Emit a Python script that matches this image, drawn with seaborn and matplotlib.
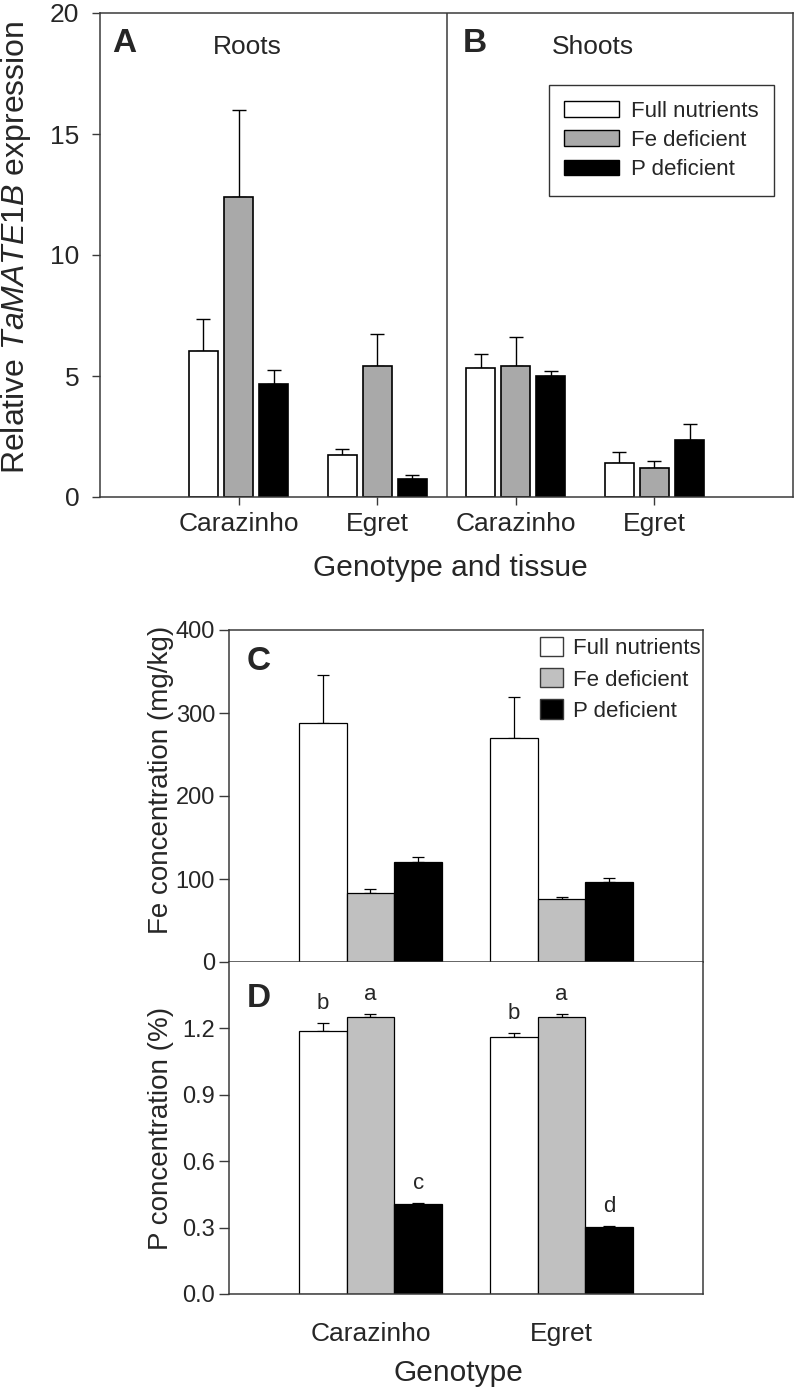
import numpy as np
import pandas as pd
import matplotlib
matplotlib.use("Agg")
import matplotlib.pyplot as plt
from matplotlib.patches import Patch
import seaborn as sns

# ---------------- data ----------------
treatments = ["Full nutrients", "Fe deficient", "P deficient"]

# Panels A/B: relative TaMATE1B expression
expr_groups = ["Roots Carazinho", "Roots Egret", "Shoots Carazinho", "Shoots Egret"]
expr_ticklabels = ["Carazinho", "Egret", "Carazinho", "Egret"]
expr_full = [6.03, 1.74, 5.34, 1.40]
expr_fe = [12.41, 5.40, 5.41, 1.19]
expr_p = [4.68, 0.74, 5.01, 2.34]
expr_full_se = [1.33, 0.24, 0.58, 0.45]
expr_fe_se = [3.58, 1.32, 1.20, 0.29]
expr_p_se = [0.57, 0.17, 0.18, 0.66]

# Panel C: Fe concentration (mg/kg)
genotypes = ["Carazinho", "Egret"]
fe_full = [288.3, 269.3]
fe_fe = [83.0, 76.5]
fe_p = [120.8, 96.6]
fe_full_se = [58.0, 50.0]
fe_fe_se = [4.8, 1.5]
fe_p_se = [5.2, 4.4]

# Panel D: P concentration (%)
p_full = [1.190, 1.161]
p_fe = [1.252, 1.250]
p_p = [0.405, 0.303]
p_full_se = [0.033, 0.017]
p_fe_se = [0.013, 0.017]
p_p_se = [0.007, 0.004]
p_letters_full = ["b", "b"]
p_letters_fe = ["a", "a"]
p_letters_p = ["c", "d"]


def long_df(groups, vals, ses):
    rows = []
    for t, v, s in zip(treatments, vals, ses):
        for g, vi, si in zip(groups, v, s):
            rows.append({"group": g, "treatment": t, "value": vi, "se": si})
    return pd.DataFrame(rows)


df_expr = long_df(expr_groups, [expr_full, expr_fe, expr_p],
                  [expr_full_se, expr_fe_se, expr_p_se])
df_fe = long_df(genotypes, [fe_full, fe_fe, fe_p], [fe_full_se, fe_fe_se, fe_p_se])
df_p = long_df(genotypes, [p_full, p_fe, p_p], [p_full_se, p_fe_se, p_p_se])

# ---------------- style ----------------
sns.set_style("ticks")
plt.rcParams["font.family"] = ["Liberation Sans", "DejaVu Sans"]
plt.rcParams["mathtext.fontset"] = "custom"
plt.rcParams["mathtext.rm"] = "Liberation Sans"
plt.rcParams["mathtext.it"] = "Liberation Sans:italic"
plt.rcParams["mathtext.bf"] = "Liberation Sans:bold"

SPINE = "#3a3a3a"
pal_top = {"Full nutrients": "white", "Fe deficient": "#a9a9a9", "P deficient": "black"}
pal_bot = {"Full nutrients": "white", "Fe deficient": "#c0c0c0", "P deficient": "black"}

W, H = 797, 1392
fig = plt.figure(figsize=(W / 100, H / 100), dpi=100)


def fig_axes(l, r, t, b):
    return fig.add_axes([l / W, (H - b) / H, (r - l) / W, (b - t) / H])


ax_top = fig_axes(100, 793, 13, 497)
ax_c = fig_axes(229, 703, 630, 962)
ax_d = fig_axes(229, 703, 962, 1294)


def draw_bars(ax, df, order, pal, width, gap, lw, elw, capsize):
    sns.barplot(data=df, x="group", y="value", hue="treatment", order=order,
                hue_order=treatments, palette=pal, saturation=1, errorbar=None,
                width=width, gap=gap, edgecolor="black", linewidth=lw,
                legend=False, ax=ax, zorder=2)
    tops = {}
    for t, cont in zip(treatments, ax.containers):
        sub = df[df.treatment == t].set_index("group").loc[order]
        xs = [b.get_x() + b.get_width() / 2 for b in cont]
        ys = [b.get_height() for b in cont]
        errs = sub["se"].values
        ax.errorbar(xs, ys, yerr=[np.zeros(len(errs)), errs], fmt="none",
                    ecolor="black", elinewidth=elw, capsize=capsize,
                    capthick=elw, zorder=1)
        tops[t] = (xs, [y + e for y, e in zip(ys, errs)])
    return tops


# ---------------- Panel A/B ----------------
draw_bars(ax_top, df_expr, expr_groups, pal_top, 0.76, 0.175, 1.2, 1.0, 5)
ax_top.set_xlim(-1, 4)
ax_top.set_ylim(0, 20)
ax_top.set_yticks([0, 5, 10, 15, 20])
ax_top.set_xticks(range(len(expr_groups)))
ax_top.set_xticklabels(expr_ticklabels)
ax_top.axvline(1.5, color=SPINE, lw=1.1)
ax_top.tick_params(axis="y", labelsize=19, length=6, width=1.0, color=SPINE, pad=9)
ax_top.tick_params(axis="x", labelsize=19, length=6, width=1.0, color=SPINE, pad=5)
for s in ax_top.spines.values():
    s.set_color(SPINE)
    s.set_linewidth(1.1)
ax_top.set_ylabel(r"Relative $\mathit{TaMATE1B}$ expression", fontsize=23)
ax_top.yaxis.set_label_coords(-0.097, 0.517)
ax_top.set_xlabel("Genotype and tissue", fontsize=21.5)
ax_top.xaxis.set_label_coords(0.505, -0.118)
ax_top.text(0.017, 0.92, "A", transform=ax_top.transAxes, fontsize=24,
            fontweight="bold", ha="left", va="baseline")
ax_top.text(0.212, 0.915, "Roots", transform=ax_top.transAxes, fontsize=19,
            ha="center", va="baseline")
ax_top.text(0.524, 0.92, "B", transform=ax_top.transAxes, fontsize=24,
            fontweight="bold", ha="left", va="baseline")
ax_top.text(0.711, 0.915, "Shoots", transform=ax_top.transAxes, fontsize=19,
            ha="center", va="baseline")
handles_top = [Patch(facecolor=pal_top[t], edgecolor="black", linewidth=1.0, label=t)
               for t in treatments]
leg = ax_top.legend(handles=handles_top, loc="upper right",
                    bbox_to_anchor=(0.9726, 0.851), borderaxespad=0,
                    fontsize=16, frameon=True, fancybox=False, edgecolor="black",
                    handlelength=2.45, handleheight=0.68, handletextpad=0.55,
                    labelspacing=0.37, borderpad=0.7)
leg.get_frame().set_linewidth(1.0)

# ---------------- Panel C ----------------
draw_bars(ax_c, df_fe, genotypes, pal_bot, 0.75, 0, 0.9, 0.9, 4)
ax_c.set_xlim(-0.74, 1.74)
ax_c.set_ylim(0, 400)
ax_c.set_yticks([0, 100, 200, 300, 400])
ax_c.set_xticks([])
ax_c.set_xlabel("")
ax_c.tick_params(axis="y", labelsize=17, length=7, width=1.0, color=SPINE, pad=3)
for s in ax_c.spines.values():
    s.set_color(SPINE)
    s.set_linewidth(1.1)
ax_c.set_ylabel("Fe concentration (mg/kg)", fontsize=20)
ax_c.yaxis.set_label_coords(-0.117, 0.55)
ax_c.text(0.038, 0.88, "C", transform=ax_c.transAxes, fontsize=24,
          fontweight="bold", ha="left", va="baseline")
handles_bot = [Patch(facecolor=pal_bot[t], edgecolor=SPINE, linewidth=1.0, label=t)
               for t in treatments]
ax_c.legend(handles=handles_bot, loc="upper right", bbox_to_anchor=(1.0, 0.985),
            borderaxespad=0, fontsize=16, frameon=False, handlelength=1.05,
            handleheight=0.95, handletextpad=0.45, labelspacing=0.4, borderpad=0.1)

# ---------------- Panel D ----------------
tops_d = draw_bars(ax_d, df_p, genotypes, pal_bot, 0.75, 0, 0.9, 0.9, 4)
ax_d.set_xlim(-0.74, 1.74)
ax_d.set_ylim(0, 1.5)
ax_d.set_yticks([0.0, 0.3, 0.6, 0.9, 1.2])
ax_d.set_yticklabels([f"{v:.1f}" for v in [0.0, 0.3, 0.6, 0.9, 1.2]])
ax_d.set_xticks(range(len(genotypes)))
ax_d.set_xticklabels(genotypes)
ax_d.tick_params(axis="y", labelsize=17, length=7, width=1.0, color=SPINE, pad=3)
ax_d.tick_params(axis="x", labelsize=19, length=0, pad=20)
ax_d.spines["top"].set_visible(False)
for s in ax_d.spines.values():
    s.set_color(SPINE)
    s.set_linewidth(1.1)
ax_d.set_ylabel("P concentration (%)", fontsize=20)
ax_d.yaxis.set_label_coords(-0.117, 0.5)
ax_d.set_xlabel("Genotype", fontsize=21.5)
ax_d.xaxis.set_label_coords(0.483, -0.197)
ax_d.text(0.037, 0.864, "D", transform=ax_d.transAxes, fontsize=24,
          fontweight="bold", ha="left", va="baseline")
for t, letters in zip(treatments, [p_letters_full, p_letters_fe, p_letters_p]):
    xs, ys = tops_d[t]
    for x, y, lab in zip(xs, ys, letters):
        ax_d.text(x, y + 0.04, lab, fontsize=16, ha="center", va="bottom")

fig.savefig("out.png", dpi=100)
